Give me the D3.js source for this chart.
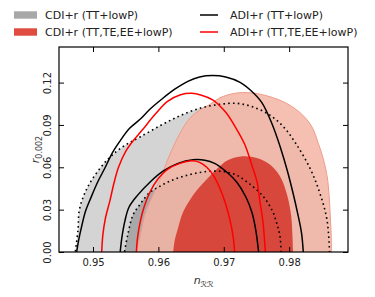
<!DOCTYPE html>
<html>
<head>
<meta charset="utf-8">
<script src="https://cdn.jsdelivr.net/npm/d3@7"></script>
<style>
  body { margin: 0; background: #fff; }
  svg { display: block; font-family: "DejaVu Sans", sans-serif; }
</style>
</head>
<body>
<svg id="chart" width="375" height="297"></svg>
<script>
// contour points [n_s, r]
const cdiTT95 = [[0.9472,-0.003],[0.9477,0.0154],[0.9479,0.0295],[0.9486,0.0401],[0.9495,0.0487],[0.9512,0.0600],
  [0.9529,0.0685],[0.9549,0.0756],[0.9572,0.0815],[0.9604,0.0898],[0.9633,0.0965],[0.9663,0.1018],[0.9694,0.1046],
  [0.9720,0.1053],[0.9745,0.1027],[0.9771,0.0968],[0.9792,0.0883],[0.9810,0.0770],[0.9832,0.0592],[0.9847,0.0416],
  [0.9858,0.0225],[0.9862,-0.003]];
const cdiTT68 = [[0.9547,-0.003],[0.9553,0.0118],[0.9561,0.0260],[0.9572,0.0338],[0.9587,0.0423],[0.9602,0.0465],
  [0.9617,0.0501],[0.9636,0.0533],[0.9656,0.0557],[0.9679,0.0572],[0.9702,0.0568],[0.9720,0.0543],[0.9740,0.0480],
  [0.9760,0.0395],[0.9774,0.0295],[0.9781,0.0203],[0.9786,0.0111],[0.9788,-0.003]];
const cdiPol95 = [[0.9564,-0.003],[0.9572,0.0111],[0.9579,0.0260],[0.9588,0.0366],[0.9602,0.0508],[0.9617,0.0685],
  [0.9633,0.0841],[0.9648,0.0947],[0.9663,0.1004],[0.9679,0.1046],[0.9694,0.1092],[0.9717,0.1124],[0.9740,0.1128],
  [0.9763,0.1110],[0.9786,0.1075],[0.9806,0.1025],[0.9824,0.0954],[0.9836,0.0876],[0.9844,0.0777],[0.9852,0.0664],
  [0.9859,0.0508],[0.9862,0.0331],[0.9864,0.0154],[0.9865,-0.003]];
const cdiPol68 = [[0.9622,-0.003],[0.9625,0.0083],[0.9630,0.0168],[0.9637,0.0274],[0.9648,0.0366],[0.9660,0.0444],
  [0.9674,0.0515],[0.9689,0.0586],[0.9706,0.0650],[0.9729,0.0678],[0.9752,0.0664],[0.9771,0.0618],[0.9786,0.0536],
  [0.9797,0.0402],[0.9803,0.0260],[0.9805,0.0118],[0.9806,-0.003]];
const adiTT95 = [[0.9474,-0.003],[0.9478,0.0083],[0.9483,0.0189],[0.9489,0.0295],[0.9497,0.0387],[0.9507,0.0494],
  [0.9518,0.0593],[0.9530,0.0706],[0.9542,0.0791],[0.9556,0.0876],[0.9572,0.0940],[0.9587,0.1011],[0.9605,0.1082],
  [0.9625,0.1153],[0.9645,0.1209],[0.9663,0.1240],[0.9683,0.1250],[0.9703,0.1240],[0.9725,0.1202],[0.9741,0.1146],
  [0.9758,0.1060],[0.9774,0.0905],[0.9786,0.0749],[0.9797,0.0579],[0.9806,0.0416],[0.9813,0.0274],[0.9819,0.0132],
  [0.9822,-0.003]];
const adiTT68 = [[0.9541,-0.003],[0.9544,0.0097],[0.9549,0.0224],[0.9555,0.0317],[0.9568,0.0401],[0.9587,0.0494],
  [0.9607,0.0572],[0.9630,0.0628],[0.9653,0.0653],[0.9671,0.0650],[0.9686,0.0628],[0.9703,0.0572],[0.9720,0.0494],
  [0.9734,0.0388],[0.9743,0.0281],[0.9749,0.0154],[0.9754,-0.003]];
const adiPol95 = [[0.9513,-0.003],[0.9515,0.0118],[0.9519,0.0239],[0.9526,0.0366],[0.9532,0.0487],[0.9539,0.0600],
  [0.9550,0.0713],[0.9562,0.0791],[0.9575,0.0862],[0.9595,0.0975],[0.9614,0.1067],[0.9634,0.1114],[0.9651,0.1124],
  [0.9666,0.1110],[0.9683,0.1078],[0.9703,0.0990],[0.9718,0.0883],[0.9732,0.0763],[0.9743,0.0614],[0.9751,0.0494],
  [0.9755,0.0366],[0.9760,0.0210],[0.9764,-0.003]];
const adiPol68 = [[0.9566,-0.003],[0.9568,0.0097],[0.9572,0.0210],[0.9578,0.0317],[0.9587,0.0423],[0.9599,0.0515],
  [0.9614,0.0586],[0.9633,0.0628],[0.9651,0.0646],[0.9663,0.0635],[0.9674,0.0600],[0.9685,0.0536],[0.9694,0.0451],
  [0.9703,0.0338],[0.9711,0.0196],[0.9715,0.0083],[0.9717,-0.003]];

const xTicks = [0.95, 0.96, 0.97, 0.98];
const yTicks = [0, 0.03, 0.06, 0.09, 0.12];
const fillLabels = ["CDI+r (TT+lowP)", "CDI+r (TT,TE,EE+lowP)"];
const lineLabels = ["ADI+r (TT+lowP)", "ADI+r (TT,TE,EE+lowP)"];

const margin = {top: 47, right: 27, bottom: 45, left: 59};
const width = 375 - margin.left - margin.right;
const height = 297 - margin.top - margin.bottom;

const svg = d3.select('#chart');
const g = svg.append('g').attr('transform', 'translate(' + margin.left + ',' + margin.top + ')');

const x = d3.scaleLinear().domain([0.9448, 0.9890]).range([0, width]);
const y = d3.scaleLinear().domain([0, 0.1452]).range([height, 0]);

g.append('clipPath').attr('id', 'clip')
  .append('rect').attr('width', width).attr('height', height);

const line = d3.line()
  .x(d => x(d[0]))
  .y(d => y(d[1]))
  .curve(d3.curveCatmullRom.alpha(0.5));

const plot = g.append('g').attr('clip-path', 'url(#clip)');

// filled contours
plot.append('path').attr('d', line(cdiTT95) + 'Z').attr('fill', '#d4d4d4');
plot.append('path').attr('d', line(cdiTT68) + 'Z').attr('fill', '#a8a8a8');
plot.append('path').attr('d', line(cdiPol95) + 'Z')
  .attr('fill', '#f3b5a3').attr('fill-opacity', 0.85)
  .attr('stroke', '#ee9c8a').attr('stroke-width', 1);
plot.append('path').attr('d', line(cdiPol68) + 'Z').attr('fill', '#d8473b');

// dotted outlines of the grey contours
[cdiTT95, cdiTT68].forEach(c => {
  plot.append('path').attr('d', line(c))
    .attr('fill', 'none').attr('stroke', '#000')
    .attr('stroke-width', 1.6).attr('stroke-dasharray', '1.6,3.2');
});

// line contours
[[adiTT95, '#000'], [adiTT68, '#000'], [adiPol95, '#ff0000'], [adiPol68, '#ff0000']].forEach(([c, col]) => {
  plot.append('path').attr('d', line(c))
    .attr('fill', 'none').attr('stroke', col).attr('stroke-width', 1.5);
});

// axes, ticks pointing inward on all sides
const fmt = d3.format('.2f');
g.append('g').attr('transform', 'translate(0,' + height + ')')
  .call(d3.axisBottom(x).tickValues(xTicks).tickFormat(fmt).tickSizeInner(-5).tickSizeOuter(0).tickPadding(7));
g.append('g')
  .call(d3.axisTop(x).tickValues(xTicks).tickFormat('').tickSizeInner(-5).tickSizeOuter(0));
const yl = g.append('g')
  .call(d3.axisLeft(y).tickValues(yTicks).tickFormat(fmt).tickSizeInner(-5).tickSizeOuter(0));
g.append('g').attr('transform', 'translate(' + width + ',0)')
  .call(d3.axisRight(y).tickValues(yTicks).tickFormat('').tickSizeInner(-5).tickSizeOuter(0));

g.selectAll('.domain').remove();
g.selectAll('.tick line').attr('stroke', '#000').attr('stroke-width', 1);
g.selectAll('.tick text').attr('fill', '#222').style('font-size', '10px')
  .style('font-family', '"DejaVu Sans", sans-serif');

yl.selectAll('.tick text')
  .attr('transform', 'rotate(-90)')
  .attr('x', 0).attr('y', -8).attr('dy', 0)
  .style('text-anchor', 'middle');

g.append('rect').attr('width', width).attr('height', height)
  .attr('fill', 'none').attr('stroke', '#000').attr('stroke-width', 1.2);

// axis labels
const xlab = svg.append('text')
  .attr('x', margin.left + width / 2).attr('y', 284)
  .attr('text-anchor', 'middle').attr('fill', '#333').style('font-size', '11px');
xlab.append('tspan').text('n').style('font-style', 'italic');
xlab.append('tspan').text('\u211B\u211B').attr('dy', 3).style('font-size', '8px');

const ylab = svg.append('text')
  .attr('transform', 'translate(39,' + (margin.top + height / 2) + ') rotate(-90)')
  .attr('text-anchor', 'middle').attr('fill', '#333').style('font-size', '11px');
ylab.append('tspan').text('r').style('font-style', 'italic');
ylab.append('tspan').text('0.002').attr('dy', 3).style('font-size', '8px');

// legend
const fillCols = ['#a8a8a8', '#dd4c3f'];
const lineCols = ['#000', '#ff0000'];
const rowY = [15, 32];
fillLabels.forEach((t, i) => {
  svg.append('rect').attr('x', 14).attr('y', rowY[i] - 3.7).attr('width', 23).attr('height', 7.4)
    .attr('fill', fillCols[i]);
  svg.append('text').attr('x', 45).attr('y', rowY[i] + 4.2).text(t)
    .attr('fill', '#222').style('font-size', '11px');
});
lineLabels.forEach((t, i) => {
  svg.append('line').attr('x1', 200).attr('x2', 218).attr('y1', rowY[i]).attr('y2', rowY[i])
    .attr('stroke', lineCols[i]).attr('stroke-width', 1.5);
  svg.append('text').attr('x', 230).attr('y', rowY[i] + 4.2).text(t)
    .attr('fill', '#222').style('font-size', '11px');
});
</script>
</body>
</html>
